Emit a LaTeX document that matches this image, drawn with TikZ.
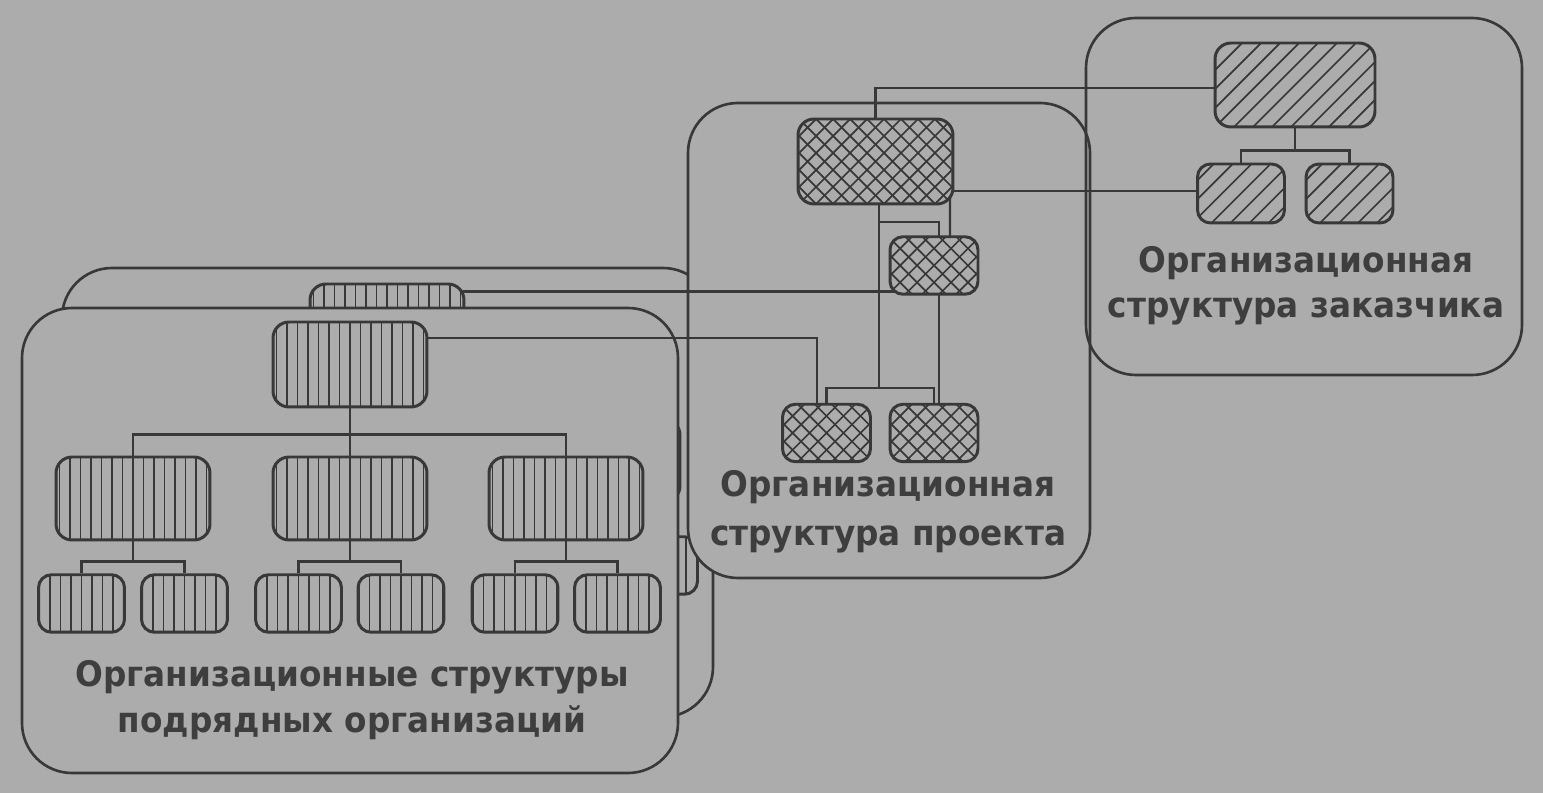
\documentclass[tikz,border=0pt]{standalone}
\usepackage{fontspec}
\setmainfont{DejaVu Sans}
\usetikzlibrary{calc}
\definecolor{bgc}{RGB}{172,172,172}
\definecolor{ink}{RGB}{56,56,56}
\definecolor{txt}{RGB}{62,62,62}
\newcommand\nx[1]{\scalebox{0.93}[1]{#1}}
\pgfdeclarelayer{boxes}
\pgfdeclarelayer{conn}
\pgfsetlayers{boxes,conn,main}
\tikzset{
  box/.style={draw=ink, line width=1.5pt, rounded corners=1cm},
  con/.style={draw=ink, line width=1.3pt},
  hl/.style={draw=ink, line width=1pt},
  base/.style={draw=ink, line width=1.7pt, fill=bgc, inner sep=0pt, rounded corners=0.32cm},
  vh/.style={base, path picture={
      \foreach \k in {-9,...,9}{
        \draw[hl] ([xshift=\k*0.21cm]path picture bounding box.north) --
                  ([xshift=\k*0.21cm]path picture bounding box.south);}}},
  dh/.style={base, path picture={
      \foreach \k in {-9,...,9}{
        \draw[hl] ([xshift=\k*0.38cm]path picture bounding box.center)
              +(-2.2cm,-2.2cm) -- +(2.2cm,2.2cm);}}},
  xh/.style={base, path picture={
      \foreach \k in {-12,...,12}{
        \draw[hl] ([xshift=\k*0.34cm]path picture bounding box.center)
              +(-2.2cm,-2.2cm) -- +(2.2cm,2.2cm)
              +(-2.2cm,2.2cm) -- +(2.2cm,-2.2cm);}}},
  big/.style={minimum width=3.08cm, minimum height=1.70cm},
  mid/.style={minimum width=3.08cm, minimum height=1.66cm},
  sml/.style={minimum width=1.72cm, minimum height=1.15cm, rounded corners=0.26cm},
  lbl/.style={align=center, text=txt, inner sep=0pt},
}
\begin{document}
\begin{tikzpicture}[x=0.02cm, y=-0.02cm]
\begin{pgfonlayer}{boxes}
  \fill[bgc] (0,0) rectangle (1543,793);
  % back contractor layer
  \draw[box, fill=bgc] (62,268) rectangle (713,717);
  \node[vh, big] (b0) at (387,326.5) {};
  \node[vh, mid] (b3) at (603,460.5) {};
  \node[vh, sml] (b6) at (654.5,565.5) {};
  % project frame
  \draw[box, fill=bgc] (688,103) rectangle (1090,578);
  % front contractor frame
  \draw[box, fill=bgc] (22,308) rectangle (678,773);
  % customer frame
  \draw[box] (1086,18) rectangle (1522,375);
\end{pgfonlayer}
\useasboundingbox (0,0) rectangle (1543,793);

% front contractor structure
\node[vh, big] (f0) at (350,364.5) {};
\node[vh, mid] (f1) at (133,498.5) {};
\node[vh, mid] (f2) at (350,498.5) {};
\node[vh, mid] (f3) at (566,498.5) {};
\node[vh, sml] (g1) at (81.5,603.5) {};
\node[vh, sml] (g2) at (184.5,603.5) {};
\node[vh, sml] (g3) at (298.5,603.5) {};
\node[vh, sml] (g4) at (401,603.5) {};
\node[vh, sml] (g5) at (515,603.5) {};
\node[vh, sml] (g6) at (617.5,603.5) {};

% project structure
\node[xh, big, minimum width=3.10cm] (pt) at (875.5,161.5) {};
\node[xh, sml, minimum width=1.76cm] (pm) at (934,265.5) {};
\node[xh, sml, minimum width=1.76cm] (pb1) at (826.5,433) {};
\node[xh, sml, minimum width=1.76cm] (pb2) at (934,433) {};

% customer structure
\node[dh, big, minimum width=3.20cm, minimum height=1.68cm] (ct) at (1295,85) {};
\node[dh, sml, minimum width=1.74cm, minimum height=1.18cm] (c1) at (1241,193.5) {};
\node[dh, sml, minimum width=1.74cm, minimum height=1.18cm] (c2) at (1349.5,193.5) {};

% labels
\node[lbl, font=\bfseries\fontsize{20}{26.1}\selectfont] (tf) at (352,700)
  {\nx{Организационные структуры}\\\nx{подрядных организаций}};
\node[lbl, font=\bfseries\fontsize{20}{27.8}\selectfont] (tp) at (888,511.5)
  {\nx{Организационная}\\\nx{структура проекта}};
\node[lbl, font=\bfseries\fontsize{20}{25.5}\selectfont] (tc) at (1306,285.5)
  {\nx{Организационная}\\\nx{структура заказчика}};

\begin{pgfonlayer}{conn}
  % customer tree
  \draw[con] (ct.center) -- ($(ct.south)+(0,22)$);
  \draw[con] (c1.north) |- ($(ct.south)+(0,22)$) -| (c2.north);
  % customer -- project
  \draw[con] ($(ct.center)+(0,3)$) -| (pt.center);
  \draw[con] ($(c1.center)+(0,-2.5)$) -- ($(c1.center -| pt.center)+(0,-2.5)$);
  % project tree
  \coordinate (pj) at (879,388);
  \coordinate (pk) at (879,222);
  \draw[con] (pt.center -| pj) -- (pj);
  \draw[con] (pb1.north) |- (pj) -| (pb2.north);
  \draw[con] (pk) -| ($(pm.center)+(5,0)$);
  \draw[con] ($(pm.center)+(5,0)$) -- ($(pb2.center)+(5,0)$);
  \draw[con] ($(pt.center)+(74.5,0)$) -- ($(pm.center)+(16,0)$);
  % back contractor -- project
  \coordinate (bq) at ($(b0.north east)+(-2,9)$);
  \draw[con] (bq) -- (bq -| pm.center);
  % front contractor -- project
  \draw[con] ($(f0.center)+(0,-26.5)$) -| ($(pb1.center)+(-9.5,0)$);
  % front contractor tree
  \draw[con] (f0.center) -- (f2.center);
  \draw[con] (f1.north) |- ($(f0.south)+(0,26)$) -| (f3.north);
  \draw[con] (f1.center) -- ($(f1.south)+(0,20)$);
  \draw[con] (g1.north) |- ($(f1.south)+(0,20)$) -| (g2.north);
  \draw[con] (f2.center) -- ($(f2.south)+(0,20)$);
  \draw[con] (g3.north) |- ($(f2.south)+(0,20)$) -| (g4.north);
  \draw[con] (f3.center) -- ($(f3.south)+(0,20)$);
  \draw[con] (g5.north) |- ($(f3.south)+(0,20)$) -| (g6.north);
\end{pgfonlayer}
\end{tikzpicture}
\end{document}
